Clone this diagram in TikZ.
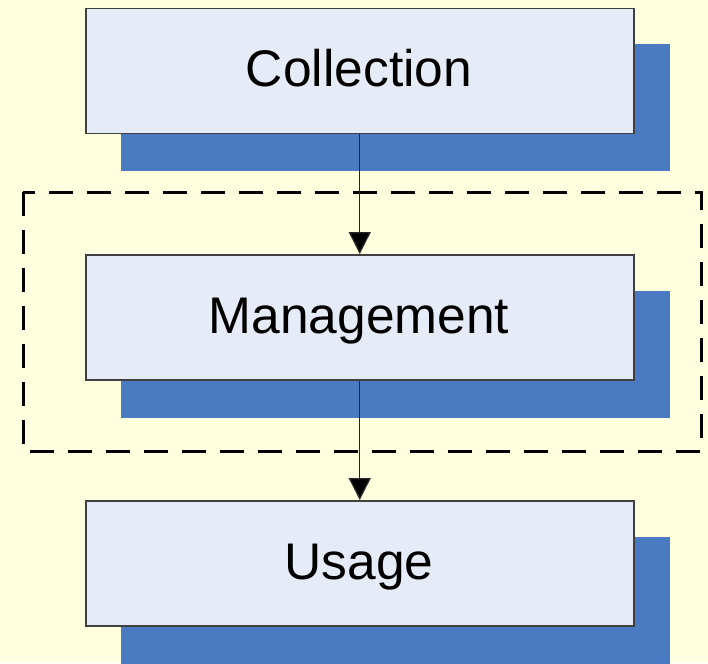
\documentclass[tikz,border=0pt]{standalone}
\usepackage{fontspec}
\setmainfont{Liberation Sans}
\usetikzlibrary{arrows.meta}
\definecolor{paper}{RGB}{255,255,224}
\definecolor{boxfill}{RGB}{230,236,247}
\definecolor{shade}{RGB}{74,122,194}
\definecolor{edge}{RGB}{64,64,64}
\tikzset{
  stage/.style={draw=edge, line width=1.5pt, fill=boxfill, minimum width=548pt,
    minimum height=125pt, inner sep=0pt, anchor=north west},
  stageshadow/.style={fill=shade, draw=none, minimum width=549pt,
    minimum height=127pt, inner sep=0pt, anchor=north west},
  label/.style={font=\fontsize{51.5}{60}\selectfont, anchor=base, inner sep=0pt},
  flow/.style={draw=black!85, line width=1.3pt, -{Triangle[length=22pt,width=22pt,fill=black]}},
  groupbox/.style={draw=black, line width=3pt, dash pattern=on 24pt off 14pt}
}
\begin{document}
\begin{tikzpicture}[x=1pt,y=-1pt]
  \fill[paper] (0,0) rectangle (708,663);
  \useasboundingbox (0,0) rectangle (708,663);
  \begin{scope}
    \clip (0,0) rectangle (708,663);
    % drop shadows
    \node[stageshadow] (s1) at (121,44) {};
    \node[stageshadow] (s2) at (121,291) {};
    \node[stageshadow] (s3) at (121,537) {};
  \end{scope}
  % stages
  \node[stage] (collection) at (85,8) {};
  \node[stage] (management) at (85,254) {};
  \node[stage] (usage) at (85,500) {};
  \node[label] (tc) at (359,87) {Collection};
  \node[label] (tm) at (359,333) {Management};
  \node[label] (tu) at (359,579) {Usage};
  % grouping frame around the middle stage
  \draw[groupbox] (23,192) rectangle (701,451);
  % flow
  \draw[flow] (collection.south) -- (management.north);
  \draw[flow] (management.south) -- (usage.north);
\end{tikzpicture}
\end{document}
